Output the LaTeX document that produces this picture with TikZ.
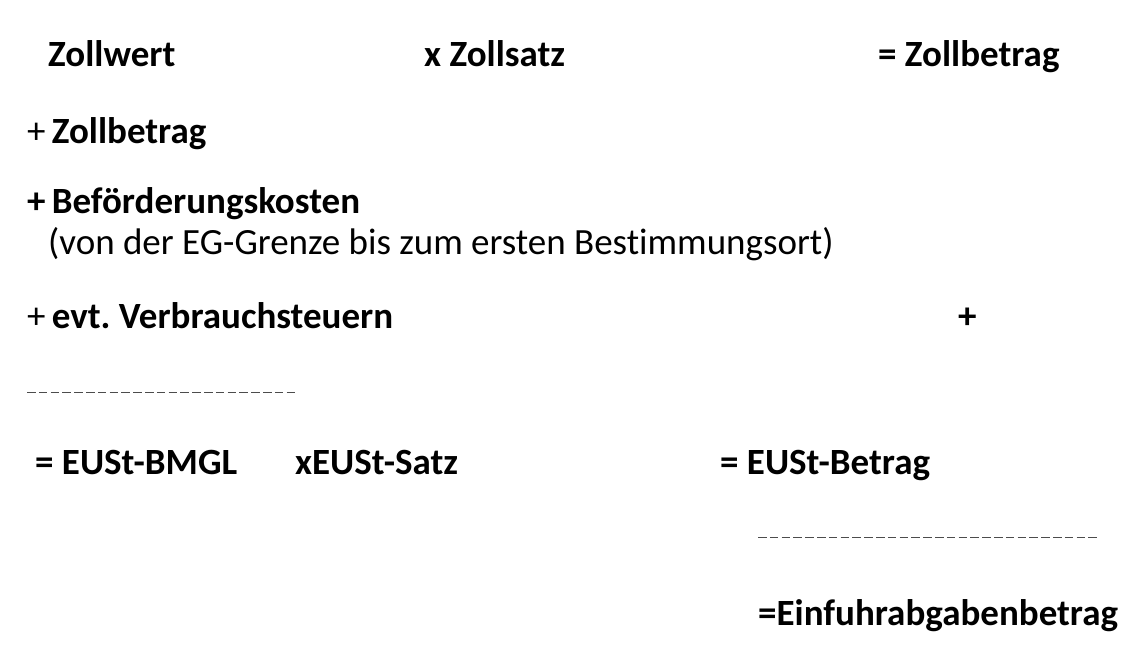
\documentclass[tikz,border=0pt]{standalone}
\usepackage{fontspec}
\setmainfont{Carlito}[Ligatures={TeX,NoCommon}]
\begin{document}
\frenchspacing
\begin{tikzpicture}[x=1pt,y=-1pt,
  lbl/.style={anchor=base west,inner sep=0pt,font=\fontsize{37}{42}\selectfont\bfseries},
  rlbl/.style={anchor=base west,inner sep=0pt,font=\fontsize{37}{42}\selectfont},
  dsh/.style={draw=black!70,line width=1.7pt,dash pattern=on 8.6pt off 3.2pt}]
\useasboundingbox (0,0) rectangle (1144,649);
\node[lbl] (zw) at (48,66) {Zollwert};
\node[lbl] (zs) at (424,66) {x Zollsatz};
\node[lbl] (zb) at (878,66) {= Zollbetrag};
\node[lbl] (pzb) at (27,143) {{\mdseries+}\,Zollbetrag};
\node[lbl] (bk) at (27,213) {+\,Beförderungskosten};
\node[rlbl] (von) at (48,254) {(von der EG-Grenze bis zum ersten Bestimmungsort)};
\node[lbl] (vs) at (27,328) {{\mdseries+}\,evt. Verbrauchsteuern};
\node[lbl] (pl) at (958,328) {+};
\coordinate (d1a) at (27,392.5);
\coordinate (d1b) at (295.2,392.5);
\draw[dsh] (d1a) -- (d1b);
\node[lbl] (bm) at (35,474) {= EUSt-BMGL};
\node[lbl] (es) at (295,474) {xEUSt-Satz};
\node[lbl] (eb) at (720,474) {= EUSt-Betrag};
\coordinate (d2a) at (758,537.5);
\coordinate (d2b) at (1097,537.5);
\draw[dsh] (d2a) -- (d2b);
\node[lbl] (ea) at (758,625) {=Einfuhrabgabenbetrag};
\end{tikzpicture}
\end{document}
